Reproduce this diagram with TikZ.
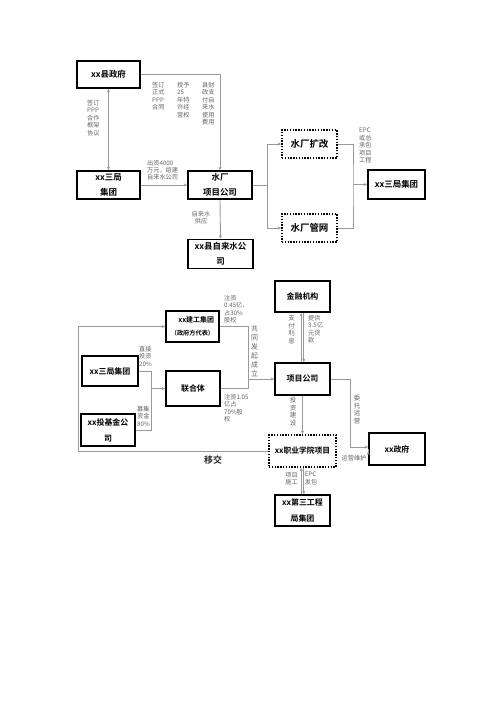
\documentclass[tikz,border=0pt]{standalone}
\usepackage{fontspec}
\setmainfont{Noto Sans CJK SC}[BoldFont={Noto Sans CJK SC Bold}]
\usetikzlibrary{arrows.meta,calc}
\definecolor{lncol}{HTML}{999999}
\definecolor{labcol}{HTML}{656565}
\begin{document}
\begin{tikzpicture}[x=1bp,y=-1bp,
  box/.style={draw=black,line width=1.6bp,inner sep=0pt,align=center,font=\fontsize{8.5}{15}\selectfont\bfseries},
  bbox/.style={box,font=\fontsize{8}{16}\selectfont\bfseries},
  dbox/.style={box,dash pattern=on 1.4bp off 1.4bp},
  ln/.style={draw=lncol,line width=0.9bp},
  arr/.style={ln,-{Stealth[length=3.5bp,width=3bp]}},
  lab/.style={text=labcol,inner sep=0pt,align=left,font=\fontsize{6.2}{7.5}\selectfont,anchor=north west},
  vlab/.style={lab,align=center,anchor=north,font=\fontsize{6.5}{7.6}\selectfont}]
\fill[white] (0,0) rectangle (500,707);
% ---------- top diagram ----------
\node[box,minimum width=63bp,minimum height=27bp] (gov) at (108.5,74.5) {xx县政府};
\node[box,minimum width=63bp,minimum height=28bp] (sj1) at (108.5,185) {xx三局\\集团};
\node[box,minimum width=64bp,minimum height=28bp] (sc) at (220,185) {水厂\\项目公司};
\node[box,minimum width=65bp,minimum height=29bp] (zls) at (220.5,254) {xx县自来水公\\司};
\node[dbox,minimum width=55bp,minimum height=28bp,font=\fontsize{9.5}{12}\selectfont\bfseries] (kg) at (309.5,144) {水厂扩改};
\node[dbox,minimum width=55bp,minimum height=28bp,font=\fontsize{9.5}{12}\selectfont\bfseries] (gw) at (309.5,228) {水厂管网};
\node[box,minimum width=57bp,minimum height=29bp] (sj2) at (396.5,184.5) {xx三局集团};
\coordinate (j1) at (267,185);
\coordinate (j2) at (353,184.5);
\draw[ln,{Stealth[length=3.5bp,width=3bp]}-{Stealth[length=3.5bp,width=3bp]}] (gov.south) -- (sj1.north);
\draw[arr] (gov.east) -| (sc.north);
\draw[arr] (sj1.east) -- (sc.west);
\draw[arr] (sc.south) -- (zls.north);
\draw[ln] (sc.east) -- (j1);
\draw[arr] (j1) |- (kg.west);
\draw[arr] (j1) |- (gw.west);
\draw[ln] (kg.east) -| (j2) |- (gw.east);
\draw[arr] (j2) -- (sj2.west);
\node[lab] (l1) at (87,100) {签订\\PPP\\合作\\框架\\协议};
\node[lab] (l2) at (152,82) {签订\\正式\\PPP\\合同};
\node[lab] (l3) at (177,82) {授予\\25\\年特\\许经\\营权};
\node[lab] (l4) at (202,82) {县财\\政支\\付自\\来水\\使用\\费用};
\node[lab,font=\fontsize{6.2}{7}\selectfont] (l5) at (147,160) {出资4000\\万元，组建\\自来水公司};
\node[lab,align=center,anchor=north] (l6) at (201,211) {自来水\\供应};
\node[lab] (l7) at (359,128) {EPC\\或总\\承包\\项目\\工程};
% ---------- bottom diagram ----------
\node[bbox,minimum width=55bp,minimum height=31bp] (jr) at (302.5,296.5) {金融机构};
\node[bbox,minimum width=55bp,minimum height=32bp] (xm) at (302.5,379) {项目公司};
\node[bbox,minimum width=53bp,minimum height=31bp,align=right,font=\fontsize{7}{13}\selectfont\bfseries] (jg) at (192.5,326.5) {xx建工集团\\{\fontsize{6.2}{13}\selectfont（政府方代表）}};
\node[bbox,minimum width=56bp,minimum height=30bp] (sj3) at (110,371) {xx三局集团};
\node[bbox,minimum width=54bp,minimum height=35bp] (lht) at (193,388.5) {联合体};
\node[bbox,minimum width=54bp,minimum height=32bp] (tj) at (108,430) {xx投基金公\\司};
\node[dbox,minimum width=67bp,minimum height=32bp,font=\fontsize{7.8}{12}\selectfont\bfseries] (zy) at (302.5,451) {xx职业学院项目};
\node[bbox,minimum width=56bp,minimum height=32bp] (gov2) at (397,449) {xx政府};
\node[bbox,minimum width=55bp,minimum height=31bp] (sg) at (302.5,510.5) {xx第三工程\\局集团};
\coordinate (j3) at (248,379);
\coordinate (j4) at (151,388.5);
\coordinate (lp) at (78,326.5);
\coordinate (j5) at (350,447);
\draw[arr] ([xshift=-1.3bp]xm.north) -- ([xshift=-1.3bp]jr.south);
\draw[arr] ([xshift=1.3bp]jr.south) -- ([xshift=1.3bp]xm.north);
\draw[ln] (jg.east) -| (j3);
\draw[ln] (lht.east) -| (j3);
\draw[arr] (j3) -- (xm.west);
\draw[ln] (sj3.east) -| (j4);
\draw[ln] (tj.east) -| (j4);
\draw[arr] (j4) -- (lht.west);
\draw[arr] (zy.west) -| (lp) -- (jg.west);
\draw[arr] (xm.south) -- (zy.north);
\draw[arr] (xm.east) -| (j5) -- (j5 -| gov2.west);
\draw[arr] ($(gov2.west)+(0,2.5)$) -- ($(gov2.west)+(0,2.5)$ -| zy.east);
\draw[arr] ([xshift=-1.3bp]sg.north) -- ([xshift=-1.3bp]zy.south);
\draw[arr] ([xshift=1.3bp]zy.south) -- ([xshift=1.3bp]sg.north);
\node[lab] (m1) at (224,295) {注资\\0.45亿，\\占30\%\\股权};
\node[vlab,font=\fontsize{7}{9}\selectfont] (m2) at (254.5,326) {共\\同\\发\\起\\成\\立};
\node[lab] (m3) at (139,346) {直接\\投资\\20\%};
\node[lab] (m4) at (137,406) {募集\\资金\\80\%};
\node[lab] (m5) at (224,394) {注资1.05\\亿占\\70\%股\\权};
\node[vlab] (m6) at (291.5,315) {支\\付\\利\\息};
\node[lab] (m7) at (308,315) {提供\\3.5亿\\元贷\\款};
\node[vlab] (m8) at (293,397) {投\\资\\建\\设};
\node[vlab] (m9) at (357,395) {委\\托\\运\\营};
\node[lab,anchor=center] (m10) at (354,458.5) {运营维护};
\node[lab,align=center,anchor=north] (m11) at (291.5,472) {项目\\施工};
\node[lab,anchor=north] (m12) at (311,472) {EPC\\发包};
\node[font=\fontsize{9}{10}\selectfont\bfseries,text=black!85,inner sep=0pt] (yj) at (213,460) {移交};
\end{tikzpicture}
\end{document}
